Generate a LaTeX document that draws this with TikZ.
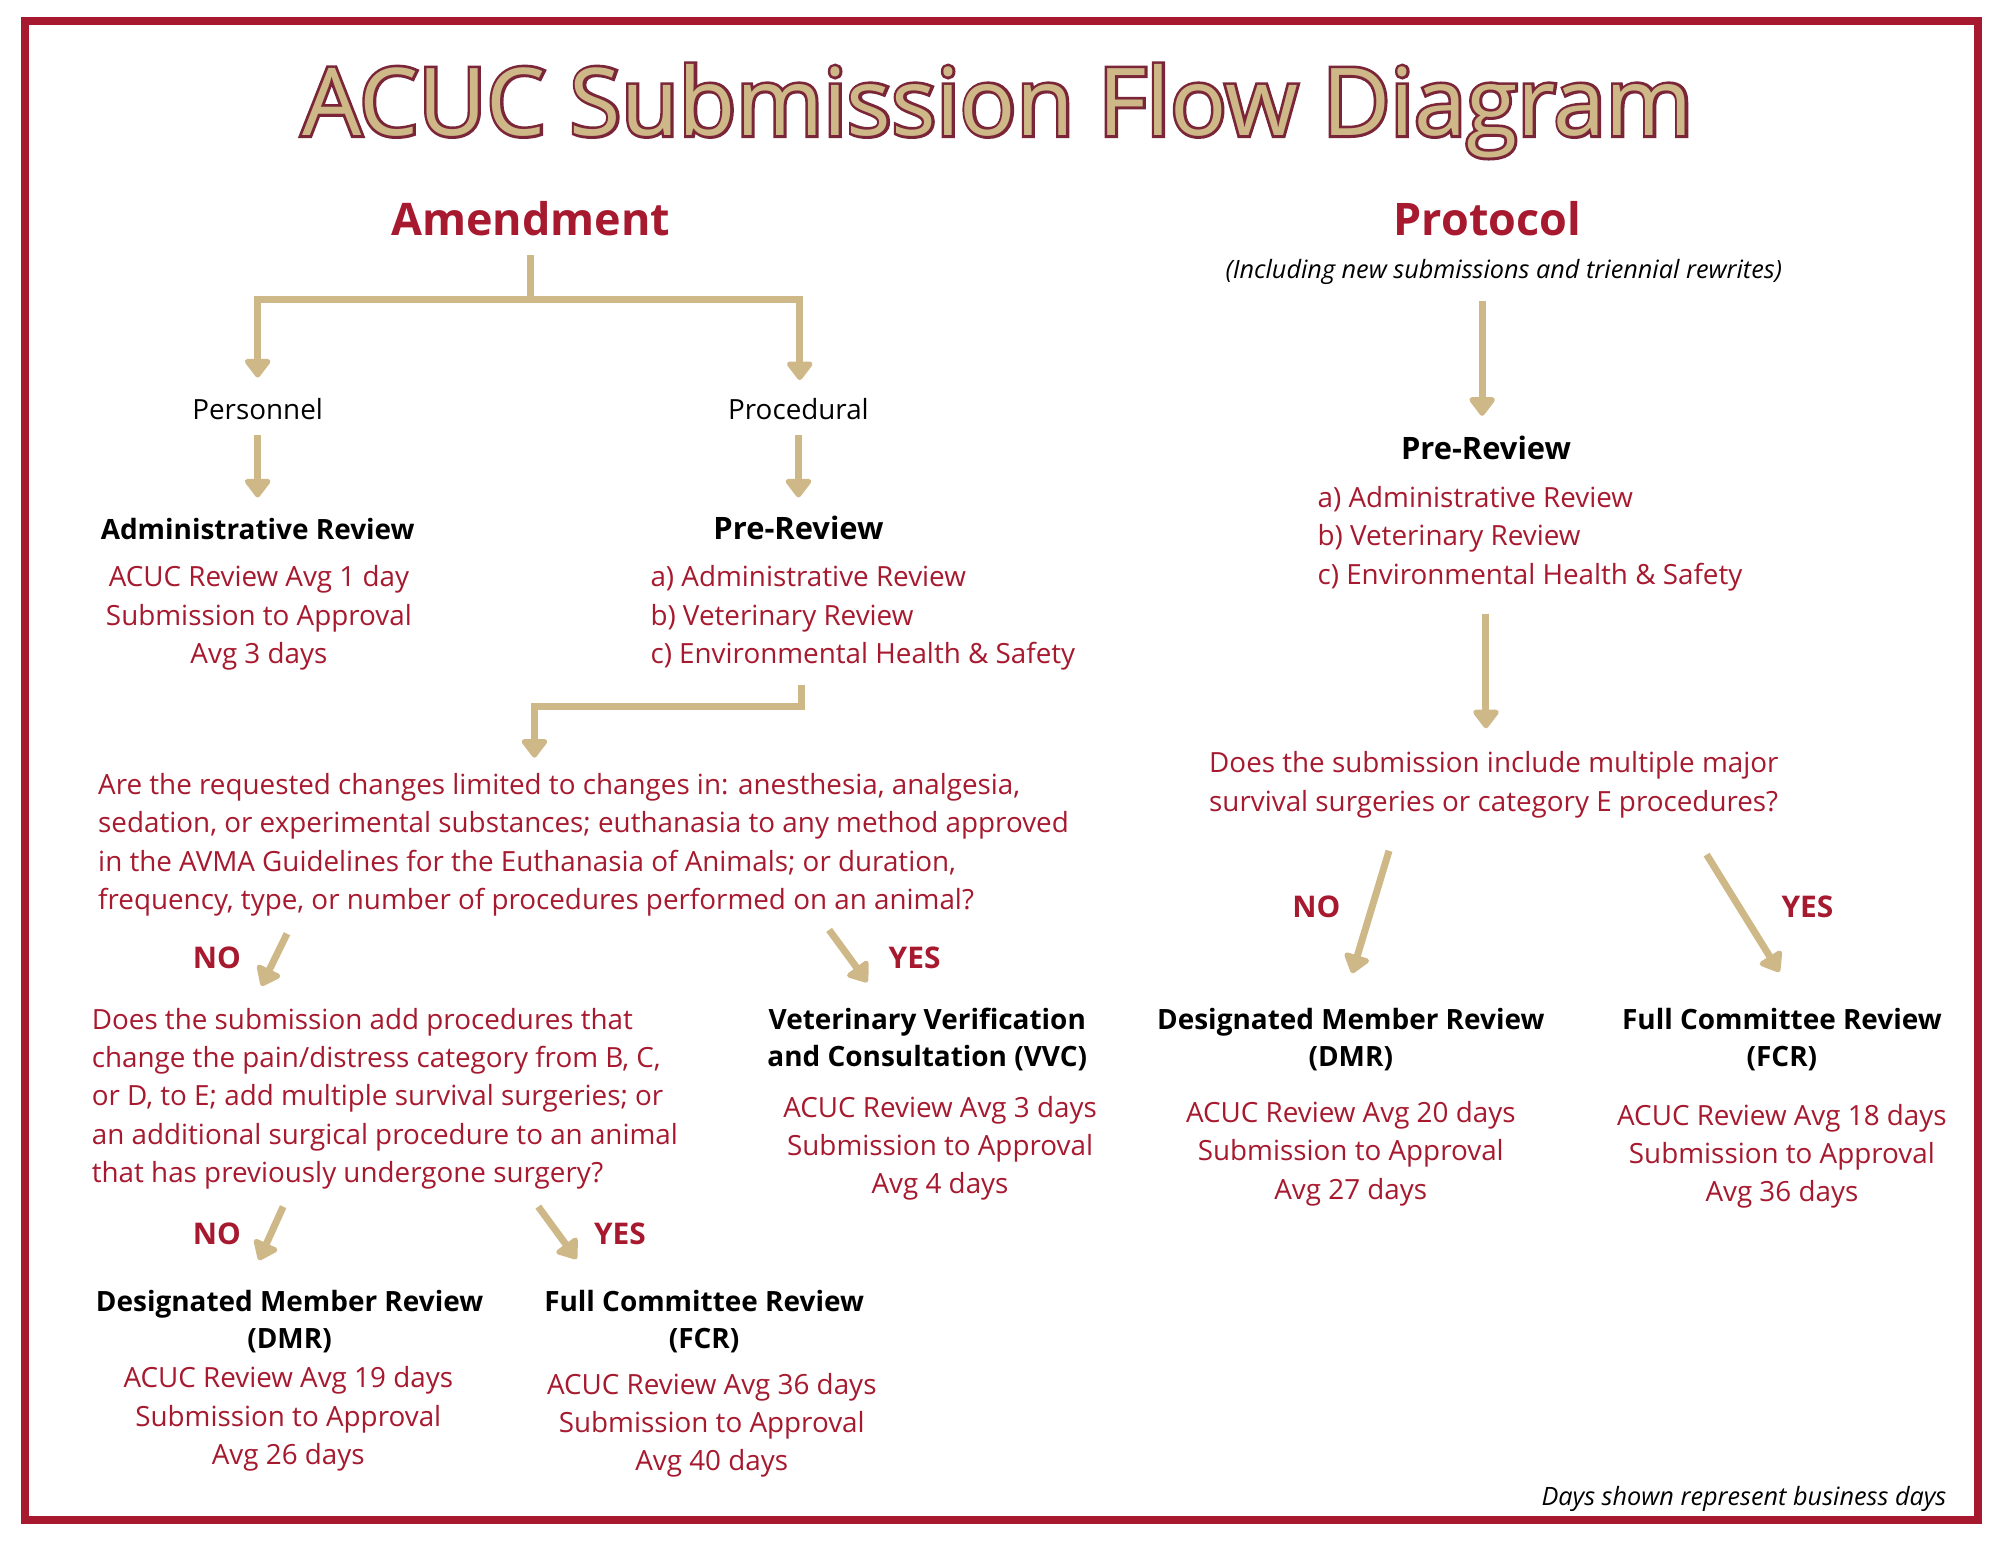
\documentclass[tikz,border=0pt]{standalone}
\usepackage{fontspec}
\setmainfont{Open Sans}
\newfontfamily\titlebold[FakeBold=6]{Open Sans}
\usetikzlibrary{arrows.meta}
\definecolor{garnet}{RGB}{166,25,46}
\definecolor{gold}{RGB}{206,184,136}
\definecolor{titleline}{RGB}{122,38,56}
\newcommand\cblock[1]{\vtop{\halign{\hfil##\hfil\cr#1\crcr}}}
\newcommand\lblock[1]{\vtop{\halign{##\hfil\cr#1\crcr}}}
\begin{document}
\begin{tikzpicture}[x=0.5pt,y=-0.5pt,
  every node/.style={inner sep=0pt,outer sep=0pt},
  body/.style={font=\fontsize{10.9pt}{15pt}\selectfont, text=garnet},
  head/.style={font=\fontsize{10.95pt}{14.7pt}\selectfont\bfseries, text=black},
  bighead/.style={font=\fontsize{12.1pt}{15pt}\selectfont\bfseries, text=black},
  plain/.style={font=\fontsize{10.9pt}{15pt}\selectfont, text=black},
  yn/.style={font=\fontsize{11.7pt}{14pt}\selectfont\bfseries, text=garnet},
  sect/.style={font=\fontsize{17.6pt}{20pt}\selectfont\bfseries, text=garnet},
  note/.style={font=\fontsize{9.9pt}{12pt}\selectfont\itshape, text=black},
  tip/.tip={Triangle[width=11.5pt,length=8pt,round]},
  conn/.style={draw=gold, line width=2.75pt, -tip},
  conntwo/.style={draw=gold, line width=2.75pt, tip-tip},
  bar/.style={draw=gold, line width=2.75pt}
]
\useasboundingbox (0,0) rectangle (1568,1211.3);
\draw[garnet, line width=3.15pt] (19.6,16.5) rectangle (1550.7,1191.7);

% title
\node[anchor=base, font=\titlebold\fontsize{36.7pt}{40pt}\selectfont, text=titleline] (titleo) at (782,106) {ACUC Submission Flow Diagram};
\node[anchor=base, font=\fontsize{36.7pt}{40pt}\selectfont, text=gold] (title) at (782,106) {ACUC Submission Flow Diagram};

% sections
\node[sect, anchor=base] (amend) at (416,185) {Amendment};
\node[sect, anchor=base] (proto) at (1166,185) {Protocol};
\node[note, anchor=base] (protosub) at (1179,218) {(Including new submissions and triennial rewrites)};

% amendment tree
\node[plain, anchor=base] (pers) at (202,329) {Personnel};
\node[plain, anchor=base] (proc) at (626,329) {Procedural};
\draw[bar] (amend.south |- 0,200) -- (416,235);
\draw[conntwo] (pers.north |- 0,296) -- (202,235) -- (627,235) -- (627,298);

\node[head, anchor=base] (admin) at (202,423) {Administrative Review};
\node[body, anchor=base] (adminb) at (203,460) {\cblock{ACUC Review Avg 1 day\cr Submission to Approval\cr Avg 3 days}};
\draw[conn] (pers.south |- 0,341) -- (admin.north |- 0,390);

\node[bighead, anchor=base] (apre) at (626,423) {Pre-Review};
\node[body, anchor=base west] (apreb) at (510,460) {\lblock{a) Administrative Review\cr b) Veterinary Review\cr c) Environmental Health \& Safety}};
\draw[conn] (proc.south |- 0,341) -- (apre.north |- 0,390);

\node[body, anchor=base west] (q1) at (77,623) {\lblock{Are the requested changes limited to changes in: anesthesia, analgesia,\cr sedation, or experimental substances; euthanasia to any method approved\cr in the AVMA Guidelines for the Euthanasia of Animals; or duration,\cr frequency, type, or number of procedures performed on an animal?}};
\coordinate (elbowa) at (628,537);
\coordinate (elbowb) at (419,594);
\draw[conn] (elbowa) -- (628,554) -- (419,554) -- (elbowb);

\node[yn, anchor=base] (no1) at (170,759) {NO};
\node[yn, anchor=base] (yes1) at (717,759) {YES};
\coordinate (no1a) at (225,732); \coordinate (no1b) at (205,773);
\coordinate (yes1a) at (650,729); \coordinate (yes1b) at (680,770);
\draw[conn] (no1a) -- (no1b);
\draw[conn] (yes1a) -- (yes1b);

\node[body, anchor=base west] (q2) at (72,807) {\lblock{Does the submission add procedures that\cr change the pain/distress category from B, C,\cr or D, to E; add multiple survival surgeries; or\cr an additional surgical procedure to an animal\cr that has previously undergone surgery?}};

\node[head, anchor=base] (vvc) at (727,807) {\cblock{Veterinary Verification\cr and Consultation (VVC)}};
\node[body, anchor=base] (vvcb) at (737,876) {\cblock{ACUC Review Avg 3 days\cr Submission to Approval\cr Avg 4 days}};

\node[yn, anchor=base] (no2) at (170,976) {NO};
\node[yn, anchor=base] (yes2) at (486,976) {YES};
\coordinate (no2a) at (222,946); \coordinate (no2b) at (203,988);
\coordinate (yes2a) at (422,946); \coordinate (yes2b) at (452,987);
\draw[conn] (no2a) -- (no2b);
\draw[conn] (yes2a) -- (yes2b);

\node[head, anchor=base] (admr) at (227,1028) {\cblock{Designated Member Review\cr (DMR)}};
\node[body, anchor=base] (admrb) at (226,1088) {\cblock{ACUC Review Avg 19 days\cr Submission to Approval\cr Avg 26 days}};
\node[head, anchor=base] (afcr) at (552,1028) {\cblock{Full Committee Review\cr (FCR)}};
\node[body, anchor=base] (afcrb) at (558,1093) {\cblock{ACUC Review Avg 36 days\cr Submission to Approval\cr Avg 40 days}};

% protocol
\node[bighead, anchor=base] (ppre) at (1165,360) {Pre-Review};
\node[body, anchor=base west] (ppreb) at (1033,398) {\lblock{a) Administrative Review\cr b) Veterinary Review\cr c) Environmental Health \& Safety}};
\coordinate (parra) at (1162,236); \coordinate (parrb) at (1162,326);
\draw[conn] (parra) -- (parrb);
\node[body, anchor=base west] (q3) at (948,606) {\lblock{Does the submission include multiple major\cr survival surgeries or category E procedures?}};
\coordinate (pq3a) at (1165,481); \coordinate (pq3b) at (1165,571);
\draw[conn] (pq3a) -- (pq3b);

\node[yn, anchor=base] (no3) at (1032,719) {NO};
\node[yn, anchor=base] (yes3) at (1417,719) {YES};
\coordinate (no3a) at (1089,667); \coordinate (no3b) at (1060,763);
\coordinate (yes3a) at (1338,670); \coordinate (yes3b) at (1395,762);
\draw[conn] (no3a) -- (no3b);
\draw[conn] (yes3a) -- (yes3b);

\node[head, anchor=base] (pdmr) at (1059,807) {\cblock{Designated Member Review\cr (DMR)}};
\node[body, anchor=base] (pdmrb) at (1059,880) {\cblock{ACUC Review Avg 20 days\cr Submission to Approval\cr Avg 27 days}};
\node[head, anchor=base] (pfcr) at (1397,807) {\cblock{Full Committee Review\cr (FCR)}};
\node[body, anchor=base] (pfcrb) at (1397,882) {\cblock{ACUC Review Avg 18 days\cr Submission to Approval\cr Avg 36 days}};

\node[note, anchor=base east] (foot) at (1526,1180) {Days shown represent business days};
\end{tikzpicture}
\end{document}
